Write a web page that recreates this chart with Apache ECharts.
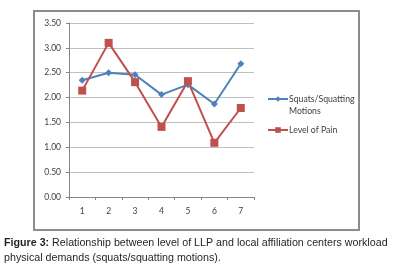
<!DOCTYPE html>
<html><head><meta charset="utf-8">
<script src="https://cdn.jsdelivr.net/npm/echarts@6/dist/echarts.min.js"></script>
<style>html,body{margin:0;padding:0;background:#fff}#c{width:399px;height:274px}</style>
</head><body><div id="c"></div>
<script>
const categories = ['1','2','3','4','5','6','7'];
const squats = [2.35, 2.50, 2.46, 2.06, 2.26, 1.87, 2.68];
const pain = [2.14, 3.10, 2.31, 1.41, 2.33, 1.09, 1.79];
const yTicks = { min: 0, max: 3.5, interval: 0.5 };
const seriesNames = ['Squats/Squatting\nMotions', 'Level of Pain'];

const chart = echarts.init(document.getElementById('c'), null, {renderer:'canvas'});
const legendText = { color: '#404040', fontFamily: 'Lato', fontSize: 8.7, lineHeight: 12, padding: [0, 0, 0, -4] };
chart.setOption({
  animation: false,
  backgroundColor: '#fff',
  grid: { left: 69, right: 145, top: 23, bottom: 77, containLabel: false },
  xAxis: {
    type: 'category', data: categories, boundaryGap: true,
    axisLine: { show: true, lineStyle: { color: '#868686', width: 1 } },
    axisTick: { show: true, length: 3, lineStyle: { color: '#868686' } },
    axisLabel: { color: '#404040', fontFamily: 'Lato', fontSize: 8.5, margin: 10 }
  },
  yAxis: {
    type: 'value', min: yTicks.min, max: yTicks.max, interval: yTicks.interval,
    axisLine: { show: true, lineStyle: { color: '#868686', width: 1 } },
    axisTick: { show: true, length: 3, lineStyle: { color: '#868686' } },
    axisLabel: { color: '#404040', fontFamily: 'Lato', fontSize: 8.5, margin: 8,
      formatter: v => v.toFixed(2) },
    splitLine: { show: true, lineStyle: { color: '#c0c0c0', width: 1 } }
  },
  legend: [
    { orient: 'vertical', left: 267, top: 81, padding: 0, itemWidth: 20, itemHeight: 7,
      textStyle: legendText, formatter: name => '\n' + name,
      data: [seriesNames[0]] },
    { orient: 'vertical', left: 267, top: 124, padding: 0, itemWidth: 20, itemHeight: 7,
      textStyle: legendText,
      data: [seriesNames[1]] }
  ],
  series: [
    { name: seriesNames[0], type: 'line', data: squats, symbol: 'diamond', symbolSize: 7,
      lineStyle: { color: '#4F81BD', width: 2 }, itemStyle: { color: '#4F81BD' } },
    { name: seriesNames[1], type: 'line', data: pain, symbol: 'rect', symbolSize: 8,
      lineStyle: { color: '#C0504D', width: 2 }, itemStyle: { color: '#C0504D' } }
  ],
  graphic: [
    { type: 'rect', shape: { x: 34, y: 11, width: 325, height: 219 },
      style: { fill: 'none', stroke: '#8c8c8c', lineWidth: 2 }, silent: true },
    { type: 'text', left: 4, top: 236, style: {
      text: '{b|Figure 3:} Relationship between level of LLP and local affiliation centers workload\nphysical demands (squats/squatting motions).',
      fontFamily: 'Liberation Sans', fontSize: 10.7, lineHeight: 15, fill: '#231f20',
      rich: { b: { fontWeight: 'bold', fontFamily: 'Liberation Sans', fontSize: 10.7, fill: '#231f20' } }
    } }
  ]
});
</script></body></html>
